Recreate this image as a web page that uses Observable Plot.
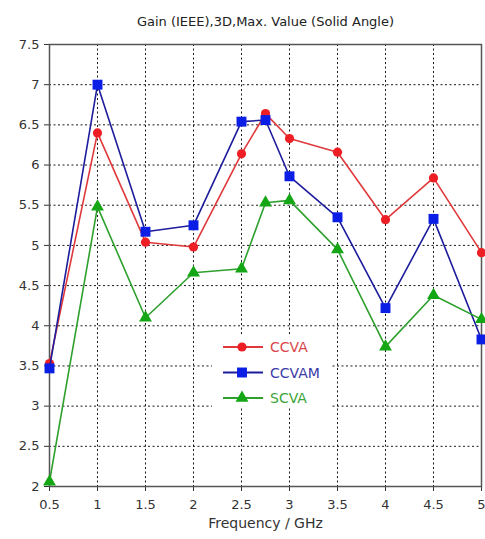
<!DOCTYPE html>
<html><head><meta charset="utf-8">
<script src="https://cdn.jsdelivr.net/npm/d3@7"></script>
<script src="https://cdn.jsdelivr.net/npm/@observablehq/plot@0.6"></script>
<style>
body{margin:0;background:#fff;}
#wrap{position:relative;width:485px;height:539px;}
svg{font-family:"DejaVu Sans",sans-serif;}
</style></head><body><div id="wrap"></div>
<script>
const title = "Gain (IEEE),3D,Max. Value (Solid Angle)";
const xLabel = "Frequency / GHz";
const freq = [0.5, 1, 1.5, 2, 2.5, 2.75, 3, 3.5, 4, 4.5, 5];
const ccva  = [3.53, 6.40, 5.04, 4.98, 6.14, 6.64, 6.33, 6.16, 5.32, 5.84, 4.91];
const ccvam = [3.47, 7.00, 5.17, 5.25, 6.54, 6.56, 5.86, 5.35, 4.22, 5.33, 3.83];
const scva  = [2.06, 5.48, 4.10, 4.66, 4.71, 5.53, 5.56, 4.95, 3.74, 4.38, 4.08];
const seriesNames = ["CCVA", "CCVAM", "SCVA"];
const xTicks = [0.5, 1, 1.5, 2, 2.5, 3, 3.5, 4, 4.5, 5];
const yTicks = [2, 2.5, 3, 3.5, 4, 4.5, 5, 5.5, 6, 6.5, 7, 7.5];

const styles = {
  CCVA:  {line: "#e0393b", fill: "#ee1f24", symbol: "circle",   r: 4.6, text: "#d9454a"},
  CCVAM: {line: "#1c1c9c", fill: "#0a1ee6", symbol: "square",   r: 5.6, text: "#3a3aa8"},
  SCVA:  {line: "#2ea02e", fill: "#14a614", symbol: "triangle", r: 4.8, text: "#3aa53a"}
};
const values = {CCVA: ccva, CCVAM: ccvam, SCVA: scva};
const data = seriesNames.flatMap(s => freq.map((f, i) => ({series: s, f, v: values[s][i]})));

const marks = [
  Plot.gridY(yTicks, {stroke: "#000", strokeOpacity: 0.9, strokeDasharray: "2,2.5", strokeWidth: 1}),
  Plot.gridX(xTicks, {stroke: "#000", strokeOpacity: 0.9, strokeDasharray: "2,2.5", strokeWidth: 1}),
  Plot.axisY(yTicks, {tickSize: 5, tickPadding: 5, fontSize: 13, color: "#333", label: null, tickFormat: d => String(d)}),
  Plot.axisX(xTicks, {tickSize: 5, tickPadding: 8, fontSize: 13, color: "#333", label: null, tickFormat: d => String(d)}),
  Plot.frame({stroke: "#555", strokeWidth: 1.5})
];
for (const s of seriesNames) {
  const d = data.filter(e => e.series === s);
  const st = styles[s];
  marks.push(Plot.line(d, {x: "f", y: "v", stroke: st.line, strokeWidth: 1.6}));
  marks.push(Plot.dot(d, {x: "f", y: "v", symbol: () => st.symbol, fill: st.fill, stroke: "none", r: st.r}));
}
marks.push(Plot.text([title], {frameAnchor: "top", dy: -28, fontSize: 13, fill: "#222"}));
marks.push(Plot.text([xLabel], {frameAnchor: "bottom", dy: 41, fontSize: 14, fill: "#333"}));

const chart = Plot.plot({
  width: 485, height: 539,
  marginLeft: 49, marginRight: 4, marginTop: 44, marginBottom: 53,
  x: {domain: [0.5, 5]},
  y: {domain: [2, 7.5]},
  symbol: {type: "identity"},
  marks
});
document.getElementById("wrap").appendChild(chart);

// Legend inside the plot area
const svg = d3.select(chart);
const lg = svg.append("g").attr("transform", "translate(212,336)");
lg.append("rect").attr("width", 118).attr("height", 72).attr("fill", "#fff");
seriesNames.forEach((s, i) => {
  const st = styles[s];
  const yy = 11 + i * 25.5;
  lg.append("line").attr("x1", 11).attr("x2", 51).attr("y1", yy).attr("y2", yy)
    .attr("stroke", st.line).attr("stroke-width", 1.8);
  const sym = {circle: d3.symbolCircle, square: d3.symbolSquare, triangle: d3.symbolTriangle}[st.symbol];
  lg.append("path").attr("d", d3.symbol(sym, Math.PI * st.r * st.r)())
    .attr("transform", `translate(30,${yy})`).attr("fill", st.fill);
  lg.append("text").attr("x", 58).attr("y", yy).attr("dy", "0.36em")
    .attr("text-anchor", "start")
    .attr("font-size", 14).attr("fill", st.text).text(s);
});
</script>
</body></html>
